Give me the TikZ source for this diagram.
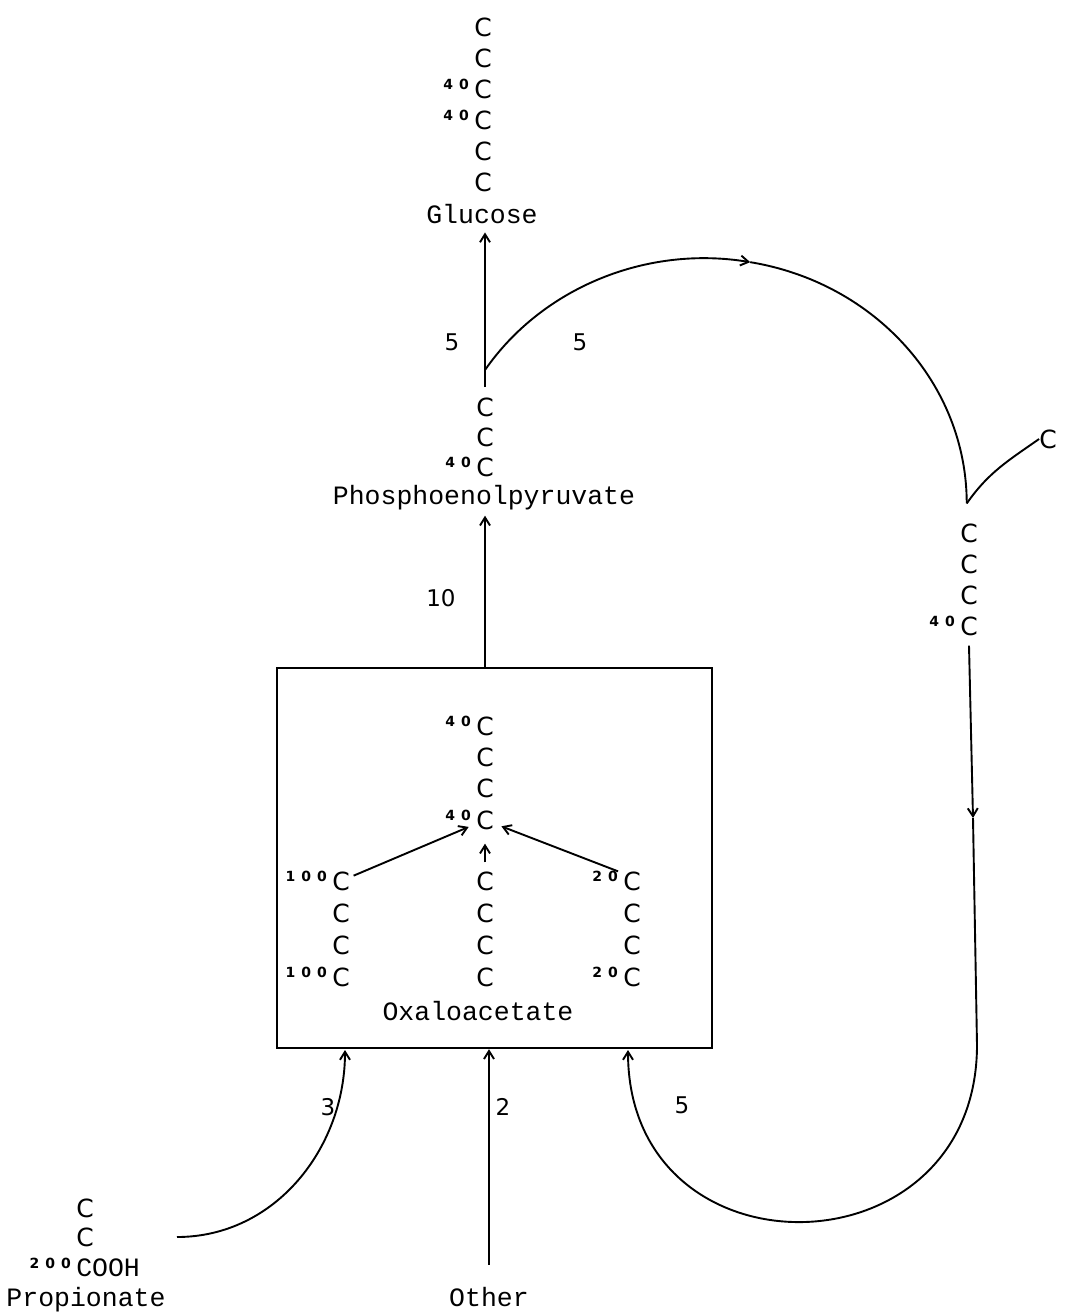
\documentclass[tikz,border=0pt]{standalone}
\usepackage{fontspec}
\setmonofont{Liberation Mono}
\newfontfamily\atomfont{DejaVu Sans}
\usetikzlibrary{arrows.meta}
\newcommand{\ig}{\hspace{6pt}}

\begin{document}
\begin{tikzpicture}[x=1pt,y=1pt]
    \tikzset{atom/.style = {font=\atomfont\fontsize{25}{25}\selectfont, inner sep=0pt}}
    \tikzset{iso/.style = {font=\atomfont\bfseries\fontsize{14}{14}\selectfont, inner sep=0pt, anchor=north east, xshift=-5pt}}
    \tikzset{molname/.style = {font=\ttfamily\fontsize{26.5}{26.5}\selectfont, inner sep=0pt, anchor=base}}
    \tikzset{flux/.style = {font=\atomfont\fontsize{23}{23}\selectfont, inner sep=0pt}}
    \tikzset{edge/.style = {line width=1.9pt, >={Straight Barb[length=8pt,width=10pt]}}}
    \tikzset{loop/.style = {x radius=262, y radius=245}}
    \useasboundingbox (0,0) rectangle (1068,-1315);

    % glucose

    \node[atom] (g1) at (483,-27) {C};
    \node[atom] (g2) at (483,-58) {C};
    \node[atom] (g3) at (483,-89) {C};
    \node[atom] (g4) at (483,-120) {C};
    \node[atom] (g5) at (483,-151) {C};
    \node[atom] (g6) at (483,-182) {C};
    \node[iso] (g3s) at (g3.north west) {4\ig0};
    \node[iso] (g4s) at (g4.north west) {4\ig0};
    \node[molname] (glu) at (482,-223) {Glucose};

    % phosphoenolpyruvate

    \node[atom] (p1) at (485,-407) {C};
    \node[atom] (p2) at (485,-437) {C};
    \node[atom] (p3) at (485,-467) {C};
    \node[iso] (p3s) at (p3.north west) {4\ig0};
    \node[molname] (pep) at (484,-504) {Phosphoenolpyruvate};

    % side chain right

    \node[atom] (s) at (1048,-439) {C};
    \node[atom] (r1) at (969,-533) {C};
    \node[atom] (r2) at (969,-564) {C};
    \node[atom] (r3) at (969,-595) {C};
    \node[atom] (r4) at (969,-626) {C};
    \node[iso] (r4s) at (r4.north west) {4\ig0};

    % oxaloacetate box

    \node[draw, line width=2.4pt, minimum width=435pt, minimum height=380pt, inner sep=0pt] (oaa) at (494.5,-858) {};
    \node[atom] (o1) at (485,-726) {C};
    \node[atom] (o2) at (485,-757) {C};
    \node[atom] (o3) at (485,-788) {C};
    \node[atom] (o4) at (485,-820) {C};
    \node[iso] (o1s) at (o1.north west) {4\ig0};
    \node[iso] (o4s) at (o4.north west) {4\ig0};

    \node[atom] (l1) at (341,-881) {C};
    \node[atom] (l2) at (341,-913) {C};
    \node[atom] (l3) at (341,-945) {C};
    \node[atom] (l4) at (341,-977) {C};
    \node[iso] (l1s) at (l1.north west) {1\ig0\ig0};
    \node[iso] (l4s) at (l4.north west) {1\ig0\ig0};

    \node[atom] (m1) at (485,-881) {C};
    \node[atom] (m2) at (485,-913) {C};
    \node[atom] (m3) at (485,-945) {C};
    \node[atom] (m4) at (485,-977) {C};

    \node[atom] (q1) at (632,-881) {C};
    \node[atom] (q2) at (632,-913) {C};
    \node[atom] (q3) at (632,-945) {C};
    \node[atom] (q4) at (632,-977) {C};
    \node[iso] (q1s) at (q1.north west) {2\ig0};
    \node[iso] (q4s) at (q4.north west) {2\ig0};

    \node[molname] (oxa) at (478,-1020) {Oxaloacetate};

    % propionate and other

    \node[atom] (c1) at (85,-1208) {C};
    \node[atom] (c2) at (85,-1237) {C};
    \node[molname, anchor=base west] (cooh) at (c2.west |- 0,-1276) {COOH};
    \node[iso] (cooh200) at (cooh.north west) {2\ig0\ig0};
    \node[molname] (prop) at (86,-1306) {Propionate};
    \node[molname] (oth) at (489,-1306) {Other};

    % fluxes

    \node[flux] (f5a) at (452,-342) {5};
    \node[flux] (f5b) at (580,-342) {5};
    \node[flux] (f10) at (441,-598) {10};
    \node[flux] (f3) at (328,-1107) {3};
    \node[flux] (f2) at (503,-1107) {2};
    \node[flux] (f5c) at (682,-1105) {5};

    \coordinate (stem) at (485,-387);
    \coordinate (bp) at (485,-370);
    \coordinate (mid) at (973,-818);
    \coordinate (rd) at (977,-1045);
    \coordinate (ps) at (177,-1237);
    \coordinate (in3) at (345,-1050);
    \coordinate (in5) at (628,-1050);

    %edges
    \draw[edge] (stem) -- (bp);
    \draw[edge,->,shorten >=9pt] (bp) -- (glu.south -| bp);
    \draw[edge,->] (bp) arc[loop, start angle=147, end angle=80] coordinate (top);
    \draw[edge] (top) arc[loop, start angle=80, end angle=0] coordinate (rb);
    \draw[edge] (rb) to[out=55,in=215] (s.west);
    \draw[edge,->] ([yshift=-10pt]r4.south) -- (mid);
    \draw[edge] (mid) -- (rd);
    \draw[edge,->] (rd) to[out=-90,in=-90,looseness=1.7] (in5);
    \draw[edge,->,shorten >=6pt] (oaa.north -| p3) -- (pep.south -| p3);
    \draw[edge,->] (ps) to[out=0,in=-90] (in3);
    \draw[edge,->,shorten <=22pt] (oth.north) -- (oaa.south -| oth);
    \draw[edge,->,shorten <=4pt,shorten >=8pt] (l1) -- (o4);
    \draw[edge,->,shorten <=9pt,shorten >=14pt] (m1) -- (o4);
    \draw[edge,->,shorten >=8pt] (q1s.north east) -- (o4);
\end{tikzpicture}
\end{document}
